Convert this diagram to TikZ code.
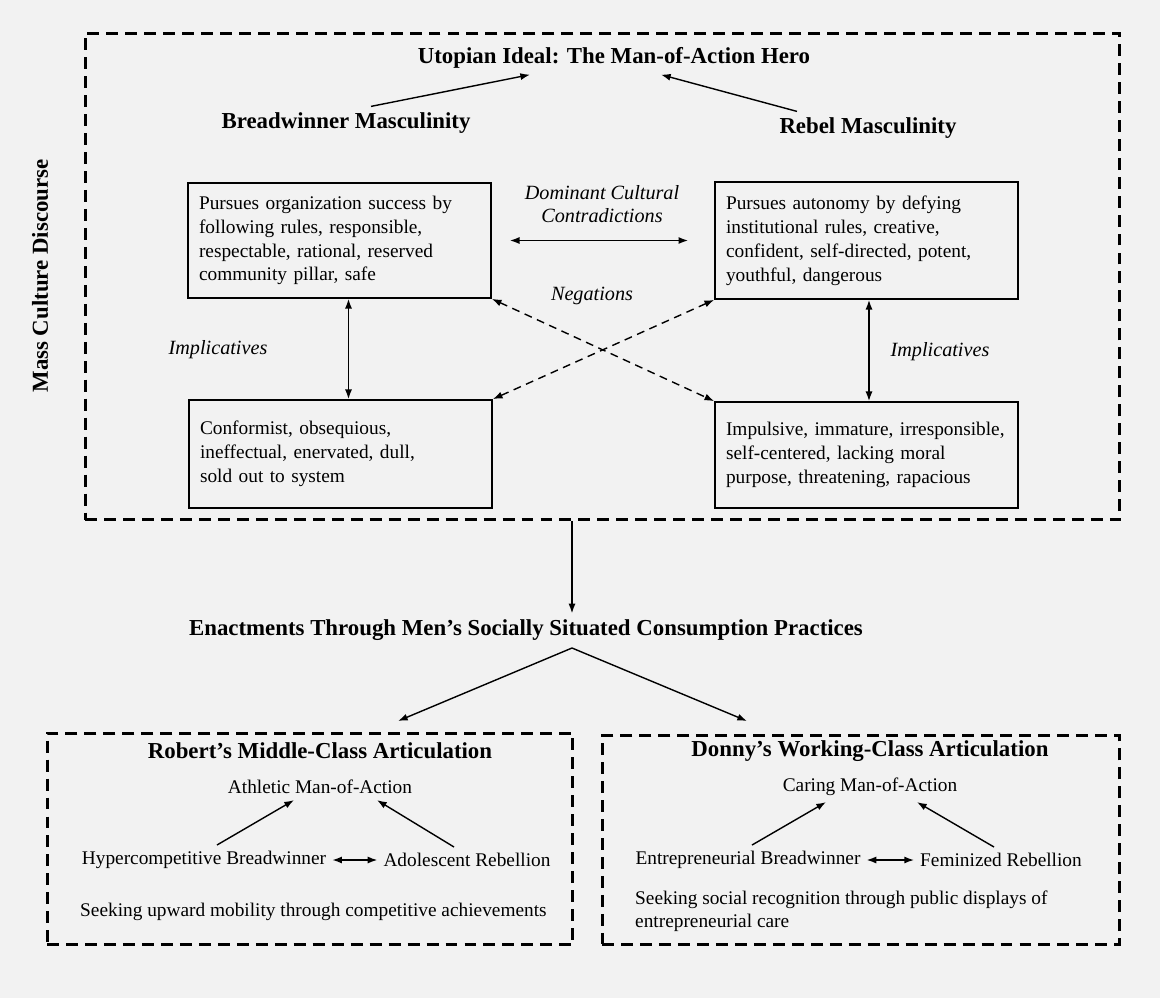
\documentclass[tikz,border=0pt]{standalone}
\usepackage{fontspec}
\setmainfont{Liberation Serif}
\usepackage{tikz}
\usetikzlibrary{calc,arrows.meta}

\begin{document}
\begin{tikzpicture}[x=0.02cm, y=-0.02cm,
        heading/.style={font=\fontsize{13}{15}\selectfont\bfseries},
        plain/.style={font=\fontsize{11}{12.8}\selectfont},
        remark/.style={font=\fontsize{11.5}{12.8}\selectfont\itshape, align=center},
        trait/.style={draw, line width=1pt, font=\fontsize{11}{13.6}\selectfont,
                      align=left, text width=5.62cm, inner xsep=.22cm},
        frame/.style={draw, line width=1.7pt, dash pattern=on 6.8pt off 4pt},
        link/.style={line width=.8pt, -{Latex[length=5.5pt,width=4pt]}},
        twoway/.style={line width=.8pt, {Latex[length=5.5pt,width=4pt]}-{Latex[length=5.5pt,width=4pt]}},
        negation/.style={twoway, dash pattern=on 4.5pt off 3.2pt}]
    \fill [black!5] (0,0) rectangle (1160,998);
    \useasboundingbox (0,0) rectangle (1160,998);

    % mass culture discourse
    \node [frame, minimum width=20.7cm, minimum height=9.74cm] (mass) at (602.5,276.5) {};
    \node [heading, rotate=90] (masslabel) at (40,276) {Mass Culture Discourse};
    \node [heading] (ideal) at (614,58) {Utopian Ideal: The Man-of-Action Hero};
    \node [heading] (bread) at (346,123) {Breadwinner Masculinity};
    \node [heading] (rebel) at (868,128) {Rebel Masculinity};

    \node [trait, minimum height=2.3cm] (breadpos) at (339.5,240.5)
        {Pursues organization success by\\ following rules, responsible,\\ respectable, rational, reserved\\ community pillar, safe};
    \node [trait, minimum height=2.34cm] (rebelpos) at (866.5,240.5)
        {Pursues autonomy by defying\\ institutional rules, creative,\\ confident, self-directed, potent,\\ youthful, dangerous};
    \node [trait, minimum height=2.16cm] (breadneg) at (340.5,454)
        {Conformist, obsequious,\\ ineffectual, enervated, dull,\\ sold out to system};
    \node [trait, minimum height=2.12cm] (rebelneg) at (866.5,455)
        {Impulsive, immature, irresponsible,\\ self-centered, lacking moral\\ purpose, threatening, rapacious};

    \node [remark] (contra) at (602,204) {Dominant Cultural\\ Contradictions};
    \node [remark] (negate) at (592,296) {Negations};
    \node [remark] (implleft) at (218,350) {Implicatives};
    \node [remark] (implright) at (940,352) {Implicatives};

    \draw [link] ($(bread.north)+(25,0)$) -- ($(ideal.south)+(-84,0)$);
    \draw [link] ($(rebel.north)+(-71,0)$) -- ($(ideal.south)+(47,0)$);
    \draw [twoway, shorten <=.36cm, shorten >=.52cm] (breadpos.east) -- (rebelpos.west);
    \draw [twoway] ($(breadpos.south)+(9,0)$) -- ($(breadneg.north)+(8,0)$);
    \draw [twoway] ($(rebelpos.south)+(2.5,0)$) -- ($(rebelneg.north)+(2.5,0)$);
    \draw [negation] (breadpos.south east) -- (rebelneg.north west);
    \draw [negation] (rebelpos.south west) -- (breadneg.north east);

    % enactments
    \coordinate (apex) at (572,648);
    \coordinate (robtip) at (398,721);
    \coordinate (dontip) at (747,721);
    \node [heading] (enact) at (526,630) {Enactments Through Men’s Socially Situated Consumption Practices};
    \draw [link] (mass.south -| apex) -- (enact.north -| apex);
    \draw [link] (apex) -- (robtip);
    \draw [link] (apex) -- (dontip);

    % robert
    \node [frame, minimum width=10.52cm, minimum height=4.24cm] (robert) at (310,839) {};
    \node [heading] (roberttitle) at (320,751) {Robert’s Middle-Class Articulation};
    \node [plain] (athletic) at (320,787) {Athletic Man-of-Action};
    \node [plain] (hyper) at (204,860) {Hypercompetitive Breadwinner};
    \node [plain] (adolescent) at (467,860) {Adolescent Rebellion};
    \node [plain, anchor=west] (upward) at (74,912) {Seeking upward mobility through competitive achievements};
    \draw [twoway] (hyper.east) -- (adolescent.west);
    \draw [link] ($(hyper.north)+(13,0)$) -- ($(athletic.south)+(-26,0)$);
    \draw [link] ($(adolescent.north)+(-13,0)$) -- ($(athletic.south)+(57,0)$);

    % donny
    \node [frame, minimum width=10.36cm, minimum height=4.18cm] (donny) at (861,840) {};
    \node [heading] (donnytitle) at (870,751) {Donny’s Working-Class Articulation};
    \node [plain] (caring) at (870,787) {Caring Man-of-Action};
    \node [plain] (entre) at (748,860) {Entrepreneurial Breadwinner};
    \node [plain] (feminized) at (1001,860) {Feminized Rebellion};
    \node [plain, anchor=west, align=left] (social) at (629,911)
        {Seeking social recognition through public displays of\\ entrepreneurial care};
    \draw [twoway] (entre.east) -- (feminized.west);
    \draw [link] ($(entre.north)+(4,0)$) -- ($(caring.south)+(-44,0)$);
    \draw [link] ($(feminized.north)+(-7,0)$) -- ($(caring.south)+(47,0)$);
\end{tikzpicture}
\end{document}
